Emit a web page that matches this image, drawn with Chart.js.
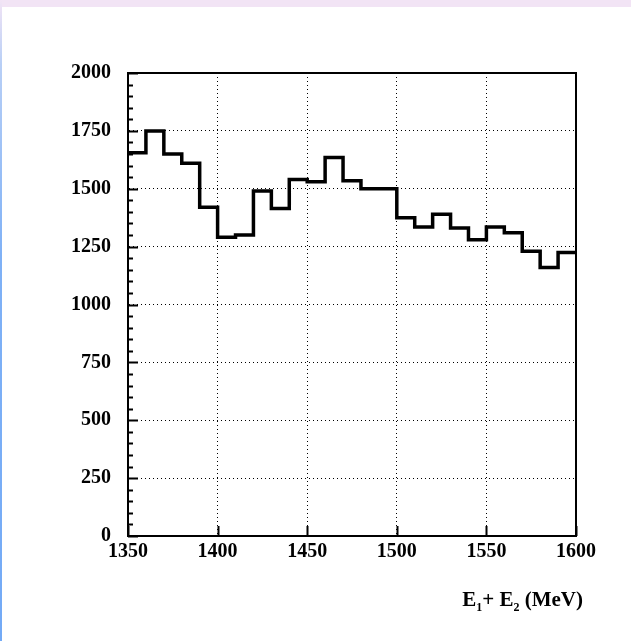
<!DOCTYPE html>
<html><head><meta charset="utf-8">
<script src="https://cdn.jsdelivr.net/npm/chart.js@4.4.1/dist/chart.umd.min.js"></script>
<style>
html,body{margin:0;padding:0;background:#fff;width:631px;height:641px;overflow:hidden;}
#wrap{position:relative;width:631px;height:641px;}
#topstrip{position:absolute;left:0;top:0;width:631px;height:7px;background:#f2e4f5;}
#leftstrip{position:absolute;left:0;top:0;width:2px;height:641px;background:linear-gradient(#f2e4f5 0%,#b8cff6 10%,#7fb1f6 40%,#73aaf6 100%);}
canvas{position:absolute;left:0;top:0;}
</style></head>
<body><div id="wrap"><div id="topstrip"></div><div id="leftstrip"></div><canvas id="c" width="631" height="641"></canvas></div>
<script>
// ---- data ----
const binLowEdges = [1350,1360,1370,1380,1390,1400,1410,1420,1430,1440,1450,1460,1470,1480,1490,1500,1510,1520,1530,1540,1550,1560,1570,1580,1590];
const binWidth = 10;
const counts = [1655,1750,1650,1610,1420,1290,1300,1490,1415,1540,1530,1635,1535,1500,1500,1375,1335,1390,1330,1280,1335,1310,1230,1160,1225];
const xTickValues = [1350,1400,1450,1500,1550,1600];
const yTickValues = [0,250,500,750,1000,1250,1500,1750,2000];
const yMinorStep = 50;
const xAxisTitle = ['E', '1', '+ E', '2', ' (MeV)'];

const points = binLowEdges.map((x,i)=>({x:x, y:counts[i]}));
points.push({x: binLowEdges[binLowEdges.length-1] + binWidth, y: counts[counts.length-1]});

const FONT = 'Liberation Serif, Times New Roman, serif';

const framePlugin = {
  id:'frame',
  afterDraw(chart){
    const {ctx, chartArea:a, scales:{x,y}} = chart;
    ctx.save();
    ctx.strokeStyle='#000';
    ctx.lineWidth=2;
    ctx.beginPath();
    const yMin = yTickValues[0], yMax = yTickValues[yTickValues.length-1];
    for(let v=yMin; v<=yMax; v+=yMinorStep){
      const py = Math.round(y.getPixelForValue(v))+0.5;
      const len = yTickValues.includes(v) ? 10 : 5;
      ctx.moveTo(a.left, py); ctx.lineTo(a.left+len, py);
    }
    xTickValues.forEach(v=>{
      const px = Math.round(x.getPixelForValue(v))+0.5;
      ctx.moveTo(px, a.bottom); ctx.lineTo(px, a.bottom-10);
    });
    ctx.stroke();
    ctx.strokeRect(a.left, a.top, a.right-a.left, a.bottom-a.top);
    // axis title
    const big = 'bold 21px ' + FONT, small = 'bold 12px ' + FONT;
    const parts = xAxisTitle.map((t,i)=>({t, sub: i===1||i===3}));
    let w = 0;
    parts.forEach(p=>{ ctx.font = p.sub?small:big; p.w = ctx.measureText(p.t).width; w += p.w; });
    let cx = 583 - w;
    const base = 606;
    ctx.fillStyle='#000';
    ctx.textBaseline='alphabetic';
    ctx.textAlign='left';
    parts.forEach(p=>{ ctx.font = p.sub?small:big; ctx.fillText(p.t, cx, p.sub?base+5:base); cx += p.w; });
    ctx.restore();
  }
};

new Chart(document.getElementById('c'), {
  type:'line',
  data:{ datasets:[{
    data: points,
    stepped: 'before',
    borderColor:'#000',
    borderWidth:3.5,
    pointRadius:0,
    fill:false,
    tension:0
  }]},
  options:{
    responsive:false,
    animation:false,
    events:[],
    layout:{padding:{left:0, top:73, right:55, bottom:0}},
    plugins:{legend:{display:false}, tooltip:{enabled:false}},
    scales:{
      x:{
        type:'linear',
        min:xTickValues[0], max:xTickValues[xTickValues.length-1],
        afterBuildTicks(s){ s.ticks = xTickValues.map(v=>({value:v})); },
        afterFit(s){ s.height = 105; },
        ticks:{ color:'#000', font:{family:FONT, size:20, weight:'bold'}, padding:4, maxRotation:0, autoSkip:false, callback:v=>String(v) },
        grid:{ color:'#000', lineWidth:1, drawTicks:false },
        border:{ display:true, color:'#000', width:2, dash:[1,3] }
      },
      y:{
        type:'linear',
        min:yTickValues[0], max:yTickValues[yTickValues.length-1],
        afterBuildTicks(s){ s.ticks = yTickValues.map(v=>({value:v})); },
        afterFit(s){ s.width = 128; },
        ticks:{ color:'#000', font:{family:FONT, size:20, weight:'bold'}, padding:17, autoSkip:false, callback:v=>String(v) },
        grid:{ color:'#000', lineWidth:1, drawTicks:false },
        border:{ display:true, color:'#000', width:2, dash:[1,3] }
      }
    }
  },
  plugins:[framePlugin]
});
</script>
</body></html>
